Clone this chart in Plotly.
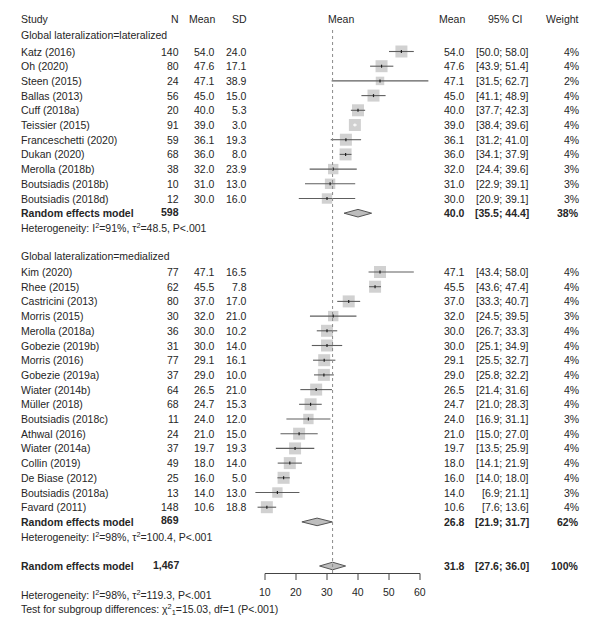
import plotly.graph_objects as go
import math

# ---------------- data ----------------
lat_study = ["Katz (2016)", "Oh (2020)", "Steen (2015)", "Ballas (2013)", "Cuff (2018a)",
             "Teissier (2015)", "Franceschetti (2020)", "Dukan (2020)", "Merolla (2018b)",
             "Boutsiadis (2018b)", "Boutsiadis (2018d)"]
lat_n = [140, 80, 24, 56, 20, 91, 59, 68, 38, 10, 12]
lat_mean = [54.0, 47.6, 47.1, 45.0, 40.0, 39.0, 36.1, 36.0, 32.0, 31.0, 30.0]
lat_sd = [24.0, 17.1, 38.9, 15.0, 5.3, 3.0, 19.3, 8.0, 23.9, 13.0, 16.0]
lat_lo = [50.0, 43.9, 31.5, 41.1, 37.7, 38.4, 31.2, 34.1, 24.4, 22.9, 20.9]
lat_hi = [58.0, 51.4, 62.7, 48.9, 42.3, 39.6, 41.0, 37.9, 39.6, 39.1, 39.1]
lat_w = [4, 4, 2, 4, 4, 4, 4, 4, 3, 3, 3]

med_study = ["Kim (2020)", "Rhee (2015)", "Castricini (2013)", "Morris (2015)", "Merolla (2018a)",
             "Gobezie (2019b)", "Morris (2016)", "Gobezie (2019a)", "Wiater (2014b)", "Müller (2018)",
             "Boutsiadis (2018c)", "Athwal (2016)", "Wiater (2014a)", "Collin (2019)",
             "De Biase (2012)", "Boutsiadis (2018a)", "Favard (2011)"]
med_n = [77, 62, 80, 30, 36, 31, 77, 37, 64, 68, 11, 24, 37, 49, 25, 13, 148]
med_mean = [47.1, 45.5, 37.0, 32.0, 30.0, 30.0, 29.1, 29.0, 26.5, 24.7, 24.0, 21.0, 19.7, 18.0, 16.0, 14.0, 10.6]
med_sd = [16.5, 7.8, 17.0, 21.0, 10.2, 14.0, 16.1, 10.0, 21.0, 15.3, 12.0, 15.0, 19.3, 14.0, 5.0, 13.0, 18.8]
med_lo = [43.4, 43.6, 33.3, 24.5, 26.7, 25.1, 25.5, 25.8, 21.4, 21.0, 16.9, 15.0, 13.5, 14.1, 14.0, 6.9, 7.6]
med_hi = [58.0, 47.4, 40.7, 39.5, 33.3, 34.9, 32.7, 32.2, 31.6, 28.3, 31.1, 27.0, 25.9, 21.9, 18.0, 21.1, 13.6]
med_w = [4, 4, 4, 3, 4, 4, 4, 4, 4, 4, 3, 4, 4, 4, 4, 3, 4]

group_names = ["Global lateralization=lateralized", "Global lateralization=medialized"]
re_n = ["598", "869"]
re_mean = [40.0, 26.8]
re_lo = [35.5, 21.9]
re_hi = [44.4, 31.7]
re_w = ["38%", "62%"]
re_het = ["Heterogeneity: I<sup>2</sup>=91%, τ<sup>2</sup>=48.5, P<.001",
          "Heterogeneity: I<sup>2</sup>=98%, τ<sup>2</sup>=100.4, P<.001"]

tot_n = "1,467"
tot_mean = 31.8
tot_lo = 27.6
tot_hi = 36.0
tot_w = "100%"
tot_het = "Heterogeneity: I<sup>2</sup>=98%, τ<sup>2</sup>=119.3, P<.001"
subgroup_test = "Test for subgroup differences: χ<sup>2</sup><sub>1</sub>=15.03, df=1 (P<.001)"

x_ticks = [10, 20, 30, 40, 50, 60]

# ---------------- layout helpers (page pixel coordinates) ----------------
OFF = 8                      # default body margin of the page
W, H = 607 - 2 * OFF, 633 - 2 * OFF
PX10, PXPER = 265.0, 3.1     # page pixel of value 10, pixels per unit
DOM_L, DOM_R = 250.0, 435.0
xr = [10 + (DOM_L - PX10) / PXPER, 10 + (DOM_R - PX10) / PXPER]

FONT = "Liberation Sans"
FS = 10.5
TXT = "#262626"

def px(x):
    return (x - OFF) / W

def rowy(i):
    return 51.5 + 14.7 * i

annotations = []

def txt(x, y, s, anchor="left", bold=False, size=FS):
    f = dict(family=FONT, size=size, color=TXT)
    if bold:
        f["weight"] = "bold"
    annotations.append(dict(x=px(x), y=y, xref="paper", yref="y", text=s, showarrow=False,
                            xanchor=anchor, yanchor="middle", align=anchor if anchor != "center" else "center",
                            font=f))

X_STUDY, X_N, X_MEAN, X_SD = 19, 181, 217, 248.5
X_RMEAN, X_CI, X_W = 467, 531, 581

# header
HY = 19
txt(X_STUDY, HY, "Study")
txt(X_N, HY, "N", "right")
txt(X_MEAN, HY, "Mean", "right")
txt(X_SD, HY, "SD", "right")
txt(341, HY, "Mean", "center")
txt(X_RMEAN, HY, "Mean", "right")
txt(505, HY, "95% CI", "center")
txt(X_W, HY, "Weight", "right")

fig = go.Figure()

groups = [
    (lat_study, lat_n, lat_mean, lat_sd, lat_lo, lat_hi, lat_w),
    (med_study, med_n, med_mean, med_sd, med_lo, med_hi, med_w),
]
start_rows = [-1, 14]

for g, (st, nn, mm, sd, lo, hi, ww) in enumerate(groups):
    r0 = start_rows[g]
    txt(X_STUDY, rowy(r0) - 1.5, group_names[g])
    ys = [rowy(r0 + 1 + k) for k in range(len(st))]
    sizes = [6 * math.sqrt(w) for w in ww]
    inside = [(hi[k] - lo[k]) * PXPER < 0.6 * sizes[k] for k in range(len(st))]
    # squares
    fig.add_trace(go.Scatter(x=mm, y=ys, mode="markers",
                             marker=dict(symbol="square", size=sizes, color="#BDBDBD", line=dict(width=0)),
                             hoverinfo="skip", showlegend=False))
    # CI lines and mean ticks
    lx, ly, wx, wy, tx, ty, tw, twy = [], [], [], [], [], [], [], []
    for k in range(len(st)):
        if inside[k]:
            wx += [lo[k], hi[k], None]; wy += [ys[k], ys[k], None]
            tw += [mm[k], mm[k], None]; twy += [ys[k] - 1.5, ys[k] + 1.5, None]
        else:
            lx += [lo[k], hi[k], None]; ly += [ys[k], ys[k], None]
            tx += [mm[k], mm[k], None]; ty += [ys[k] - 1.5, ys[k] + 1.5, None]
    fig.add_trace(go.Scatter(x=lx, y=ly, mode="lines", line=dict(color="#5e5e5e", width=1.1),
                             hoverinfo="skip", showlegend=False))
    fig.add_trace(go.Scatter(x=tx, y=ty, mode="lines", line=dict(color="#1e1e1e", width=1.2),
                             hoverinfo="skip", showlegend=False))
    if wx:
        fig.add_trace(go.Scatter(x=wx, y=wy, mode="lines", line=dict(color="white", width=1.1),
                                 hoverinfo="skip", showlegend=False))
        fig.add_trace(go.Scatter(x=tw, y=twy, mode="lines", line=dict(color="white", width=1.2),
                                 hoverinfo="skip", showlegend=False))
    for k in range(len(st)):
        y = ys[k]
        txt(X_STUDY, y, st[k])
        txt(X_N, y, str(nn[k]), "right")
        txt(X_MEAN, y, f"{mm[k]:.1f}", "right")
        txt(X_SD, y, f"{sd[k]:.1f}", "right")
        txt(X_RMEAN, y, f"{mm[k]:.1f}", "right")
        txt(X_CI, y, f"[{lo[k]:.1f}; {hi[k]:.1f}]", "right")
        txt(X_W, y, f"{ww[k]}%", "right")
    # random effects
    ry = rowy(r0 + 1 + len(st))
    fig.add_trace(go.Scatter(x=[re_lo[g], re_mean[g], re_hi[g], re_mean[g], re_lo[g]],
                             y=[ry, ry - 3.8, ry, ry + 3.8, ry], mode="lines", fill="toself",
                             fillcolor="#BDBDBD", line=dict(color="#555555", width=1),
                             hoverinfo="skip", showlegend=False))
    txt(X_STUDY, ry, "Random effects model", bold=True)
    txt(X_N, ry - 1.5, re_n[g], "right", bold=True)
    txt(X_RMEAN, ry, f"{re_mean[g]:.1f}", "right", bold=True)
    txt(X_CI, ry, f"[{re_lo[g]:.1f}; {re_hi[g]:.1f}]", "right", bold=True)
    txt(X_W, ry, re_w[g], "right", bold=True)
    txt(X_STUDY, ry + 14.7, re_het[g])

# overall
oy = rowy(35)
fig.add_trace(go.Scatter(x=[tot_lo, tot_mean, tot_hi, tot_mean, tot_lo],
                         y=[oy, oy - 3.8, oy, oy + 3.8, oy], mode="lines", fill="toself",
                         fillcolor="#BDBDBD", line=dict(color="#555555", width=1),
                         hoverinfo="skip", showlegend=False))
txt(X_STUDY, oy, "Random effects model", bold=True)
txt(X_N, oy - 1.5, tot_n, "right", bold=True)
txt(X_RMEAN, oy, f"{tot_mean:.1f}", "right", bold=True)
txt(X_CI, oy, f"[{tot_lo:.1f}; {tot_hi:.1f}]", "right", bold=True)
txt(X_W, oy, tot_w, "right", bold=True)
txt(X_STUDY, 602, tot_het + "<br>" + subgroup_test)

# reference dotted line at overall estimate
AXY = 573.5
fig.add_trace(go.Scatter(x=[tot_mean, tot_mean], y=[30, AXY], mode="lines",
                         line=dict(color="#8a8a8a", width=1, dash="dot"),
                         hoverinfo="skip", showlegend=False))

# axis
ax_x, ax_y = [x_ticks[0], x_ticks[-1], None], [AXY, AXY, None]
for t in x_ticks:
    ax_x += [t, t, None]
    ax_y += [AXY, AXY + 6.5, None]
    annotations.append(dict(x=t, y=592, xref="x", yref="y", text=str(t), showarrow=False,
                            xanchor="center", yanchor="middle", font=dict(family=FONT, size=FS, color=TXT)))
fig.add_trace(go.Scatter(x=ax_x, y=ax_y, mode="lines", line=dict(color="#444444", width=1),
                         hoverinfo="skip", showlegend=False))

fig.update_layout(
    width=W, height=H, margin=dict(l=0, r=0, t=0, b=0),
    paper_bgcolor="white", plot_bgcolor="white",
    xaxis=dict(domain=[px(DOM_L), px(DOM_R)], range=xr, visible=False, fixedrange=True),
    yaxis=dict(domain=[0, 1], range=[H + OFF, OFF], visible=False, fixedrange=True),
    annotations=annotations, showlegend=False,
)

fig.write_html("out.html")
